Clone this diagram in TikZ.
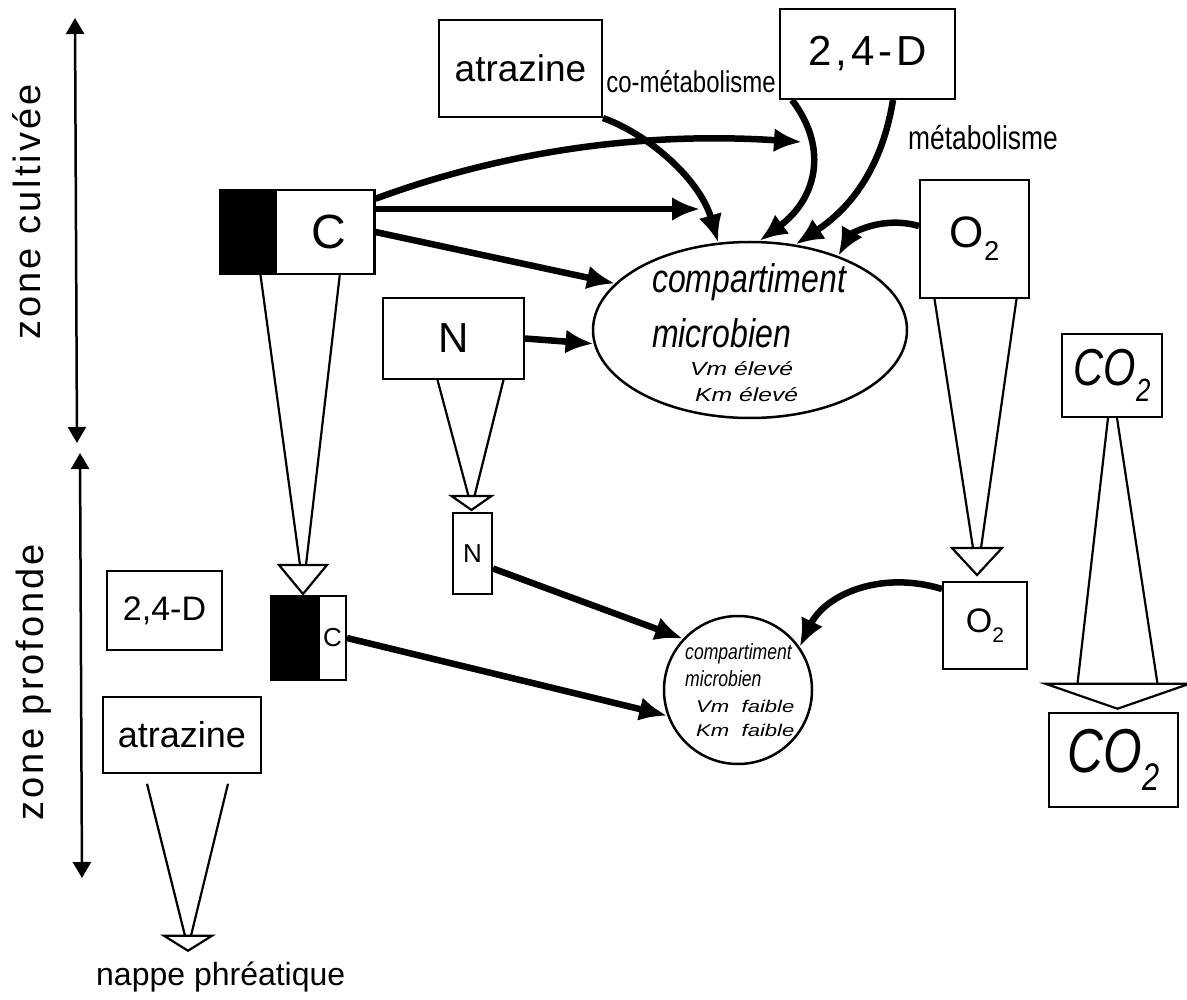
\documentclass[tikz,border=0pt]{standalone}
\usepackage{fontspec}
\usepackage{graphicx}
\setmainfont{Liberation Sans}
\newfontfamily\etroit[FakeStretch=0.8]{Liberation Sans}
\newfontfamily\elargi[FakeStretch=1.3]{Liberation Sans}
\newfontfamily\espace[LetterSpace=8]{Liberation Sans}
\newfontfamily\aere[LetterSpace=9]{Liberation Sans}
\usetikzlibrary{arrows.meta,calc,shapes.geometric}
\newcommand{\taille}[1]{\fontsize{#1}{#1}\selectfont}
\newcommand{\indice}[1]{\raisebox{-.3em}{\scalebox{.62}{#1}}}
% hollow wedge arrow: start left, start right, apex, half width, head height, half gap
\newcommand{\creux}[6]{%
  \draw[tige] (#1) -- ($(#3)+(-#6,-#5)$);
  \draw[tige] (#2) -- ($(#3)+(#6,-#5)$);
  \draw[tete] ($(#3)+(-#4,-#5)$) -- (#3) -- ($(#3)+(#4,-#5)$) -- cycle;}
\tikzset{
  boite/.style={rectangle,draw=black,line width=2pt,inner sep=0pt,fill=white},
  noir/.style={rectangle,draw=black,line width=2pt,inner sep=0pt,fill=black},
  compart/.style={ellipse,draw=black,line width=2.5pt,inner sep=0pt},
  fleche/.style={-{Latex[length=28pt,width=24pt]},line width=6.5pt},
  tige/.style={line width=2.2pt},
  tete/.style={line width=2.2pt,fill=white,line join=miter},
  axe/.style={{Triangle[length=16pt,width=18pt]}-{Triangle[length=16pt,width=18pt]},line width=2.5pt},
  zone/.style={rotate=90,inner sep=0pt,font=\espace\taille{38}},
  legende/.style={inner sep=0pt,font=\etroit\taille{30}},
  grand/.style={anchor=base west,inner sep=0pt,font=\etroit\itshape\taille{40}},
  petit/.style={anchor=base west,inner sep=0pt,font=\etroit\itshape\taille{22}},
  cinet/.style={anchor=base west,inner sep=0pt,font=\elargi\itshape\taille{19}},
}

\begin{document}
\begin{tikzpicture}[x=1pt,y=-1pt]
\path[use as bounding box,fill=white] (0,0) rectangle (1187,1000);

% zones
\coordinate (zcH) at (75,18);
\coordinate (zcB) at (77,443);
\coordinate (zpH) at (80,453);
\coordinate (zpB) at (82,878);
\draw[axe] (zcH) -- (zcB);
\draw[axe] (zpH) -- (zpB);
\node[zone] (zc) at (27,212) {zone cultivée};
\node[zone] (zp) at (34,682) {zone profonde};

% zone cultivee
\node[boite,minimum width=163pt,minimum height=97pt,font=\taille{37}] (atrH) at (520.5,68.5) {atrazine};
\node[boite,minimum width=175pt,minimum height=90pt,font=\aere\taille{42}] (dDh) at (867.5,54) {2,4-D};
\node[legende] (cometa) at (691,82) {co-métabolisme};
\node[legende,font=\etroit\taille{33}] (meta) at (983,138) {métabolisme};
\node[boite,minimum width=109pt,minimum height=118pt,font=\taille{44}] (O2h) at (974.5,239) {O\indice{2}};
\node[noir,minimum width=53pt,minimum height=84pt] (Cnoir) at (246.5,232) {};
\node[boite,line width=2.5pt,minimum width=99pt,minimum height=84pt,font=\taille{48},anchor=west] (C) at (Cnoir.east) {\hspace{8pt}C};
\node[boite,minimum width=141pt,minimum height=81pt,font=\taille{42}] (N) at (453.5,338.5) {N};
\node[compart,minimum width=314pt,minimum height=176pt] (Mh) at (750,330) {};
\node[grand] (MhA) at (652,293) {compartiment};
\node[grand] (MhB) at (652,348) {microbien};
\node[cinet] (MhC) at (690,376) {Vm élevé};
\node[cinet] (MhD) at (695,402) {Km élevé};
\node[boite,minimum width=100pt,minimum height=83pt,font=\etroit\itshape\taille{52}] (CO2h) at (1112,375.5) {CO\indice{2}};

% zone profonde
\node[boite,minimum width=39pt,minimum height=81pt,font=\taille{26}] (Nb) at (472.5,553.5) {N};
\node[noir,minimum width=46pt,minimum height=84pt] (Cnoirb) at (294,638) {};
\node[boite,minimum width=27pt,minimum height=84pt,font=\taille{26},anchor=west] (Cb) at (Cnoirb.east) {C};
\node[boite,line width=1.5pt,minimum width=115pt,minimum height=79pt,font=\taille{34}] (dDb) at (164.5,610.5) {2,4-D};
\node[boite,line width=1.5pt,minimum width=158pt,minimum height=76pt,font=\taille{36}] (atrB) at (182,735) {atrazine};
\node[compart,minimum width=148pt,minimum height=148pt] (Mb) at (738,690) {};
\node[petit] (MbA) at (685,659) {compartiment};
\node[petit] (MbB) at (685,686) {microbien};
\node[cinet,font=\elargi\itshape\taille{17}] (MbC) at (696,712) {Vm \ faible};
\node[cinet,font=\elargi\itshape\taille{17}] (MbD) at (696,736) {Km \ faible};
\node[boite,minimum width=84pt,minimum height=87pt,font=\taille{34}] (O2b) at (985,625.5) {O\indice{2}};
\node[boite,line width=2.5pt,minimum width=129pt,minimum height=94pt,font=\etroit\itshape\taille{62}] (CO2b) at (1113.5,760) {CO\indice{2}};
\node[anchor=west,inner sep=0pt,font=\taille{32}] (nappe) at (96,977) {nappe phréatique};

% fleches epaisses
\coordinate (bout1) at (802,142);
\coordinate (bout2) at (700,209);
\draw[fleche] ($(C.north east)+(0,10)$) .. controls (480,160) and (620,130) .. (bout1);
\draw[fleche] ($(C.east)+(0,-23)$) -- (bout2);
\draw[fleche] (C.east) -- (Mh.161);
\draw[fleche] (atrH.south east) .. controls (650,135) and (700,180) .. (Mh.110);
\draw[fleche] ($(dDh.south west)+(13,0)$) .. controls (830,150) and (815,200) .. (Mh.84);
\draw[fleche] ($(dDh.south east)+(-63,0)$) .. controls (880,180) and (840,215) .. (Mh.62);
\draw[fleche] ($(O2h.west)+(0,-13)$) .. controls (880,215) and (850,235) .. (Mh.40);
\draw[fleche] (N.east) -- (Mh.185);
\draw[fleche] ($(Nb.east)+(0,15)$) -- (Mb.137);
\draw[fleche] (Cb.east) -- (Mb.200);
\draw[fleche] ($(O2b.north west)+(0,8)$) .. controls (880,570) and (825,595) .. (Mb.35);

% fleches creuses
\coordinate (pC) at ($(Cnoirb.north east)+(-15,-1)$);
\coordinate (pN) at ($(Nb.north)+(-1,-2)$);
\coordinate (pO) at ($(O2b.north)+(-8,-6)$);
\coordinate (pCO) at ($(CO2b.north)+(4,-3)$);
\coordinate (pA) at ($(atrB.south)+(6,177)$);
\creux{$(Cnoir.south)+(14,0)$}{$(C.south)+(15,0)$}{pC}{24}{29}{3}
\creux{$(N.south)+(-16,0)$}{$(N.south)+(50,0)$}{pN}{20}{14}{3}
\creux{$(O2h.south)+(-40,0)$}{$(O2h.south)+(42,0)$}{pO}{25}{27}{4}
\creux{$(CO2h.south)+(-4,0)$}{$(CO2h.south)+(5,0)$}{pCO}{72}{25}{40}
\creux{$(atrB.south)+(-35,10)$}{$(atrB.south)+(46,10)$}{pA}{24}{15}{3}

\end{tikzpicture}
\end{document}
